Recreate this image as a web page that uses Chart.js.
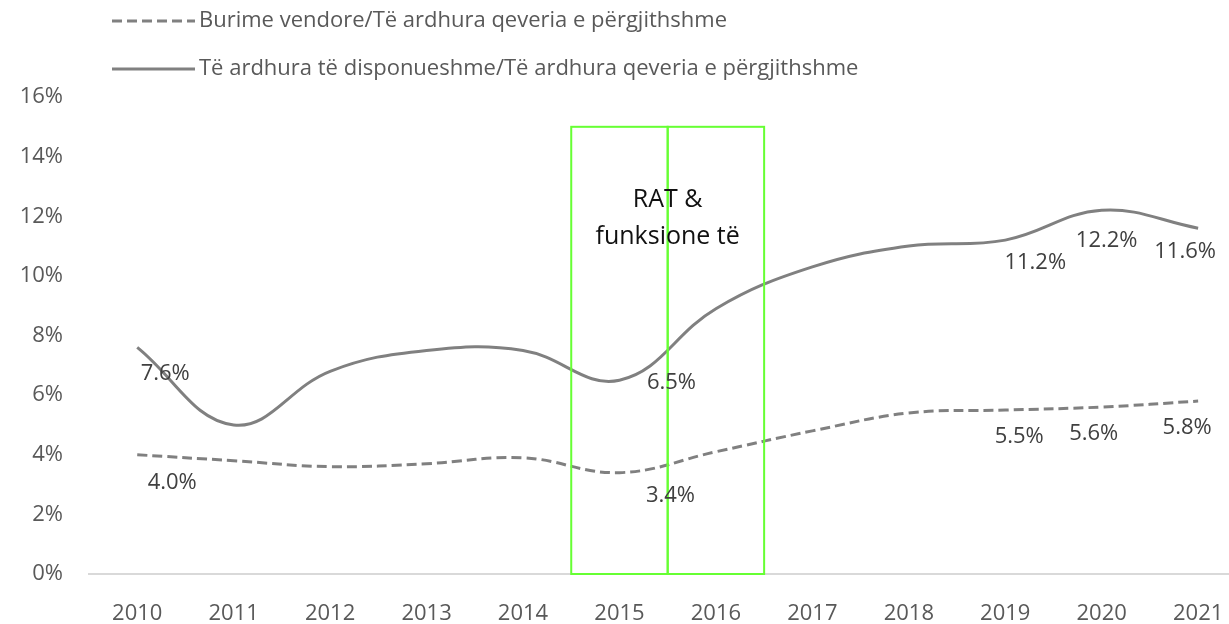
<!DOCTYPE html>
<html>
<head>
<meta charset="utf-8">
<script src="https://cdn.jsdelivr.net/npm/chart.js@4.4.1/dist/chart.umd.min.js"></script>
<style>
    body { margin: 0; background: #fff; }
    #wrap { width: 1229px; height: 624px; position: relative; }
</style>
</head>
<body>
<div id="wrap"><canvas id="lineChart"></canvas></div>
<script>
var years = [2010, 2011, 2012, 2013, 2014, 2015, 2016, 2017, 2018, 2019, 2020, 2021];
var burimeVendore = [4.0, 3.8, 3.6, 3.7, 3.9, 3.4, 4.1, 4.8, 5.4, 5.5, 5.6, 5.8];
var teArdhuraDisp = [7.6, 5.0, 6.8, 7.5, 7.5, 6.5, 8.9, 10.3, 11.0, 11.2, 12.2, 11.6];
var yTicks = [0, 2, 4, 6, 8, 10, 12, 14, 16];
var seriesNames = [
    'Burime vendore/Të ardhura qeveria e përgjithshme',
    'Të ardhura të disponueshme/Të ardhura qeveria e përgjithshme'
];
var labelledYears = [2010, 2015, 2019, 2020, 2021];
var boxYears = [2015, 2016];
var boxTop = 15;
var boxText = ['RAT &', 'funksione të'];

// where each value label sits relative to its point (px)
var labelShift = [
    { 2010: [35, 28], 2015: [51, 23], 2019: [14, 27], 2020: [-8, 27], 2021: [-11, 27] },
    { 2010: [28, 26], 2015: [52, 3], 2019: [30, 23], 2020: [5, 30], 2021: [-13, 24] }
];

function toPoints(arr) {
    return years.map(function(y, i) { return { x: y, y: arr[i] }; });
}

var legendPlugin = {
    id: 'topLegend',
    afterDraw: function(chart) {
        var ctx = chart.ctx;
        ctx.save();
        ctx.font = '22px "Open Sans"';
        ctx.fillStyle = '#595959';
        ctx.textBaseline = 'middle';
        chart.data.datasets.forEach(function(ds, i) {
            var y = 21 + i * 48;
            ctx.beginPath();
            ctx.strokeStyle = ds.borderColor;
            ctx.lineWidth = 3;
            ctx.setLineDash(ds.borderDash || []);
            ctx.moveTo(112, y);
            ctx.lineTo(195, y);
            ctx.stroke();
            ctx.setLineDash([]);
            ctx.fillText(ds.label, 199, y);
        });
        ctx.restore();
    }
};

var boxPlugin = {
    id: 'boxes',
    afterDatasetsDraw: function(chart) {
        var ctx = chart.ctx, xs = chart.scales.x, ys = chart.scales.y;
        ctx.save();
        ctx.strokeStyle = '#66ff33';
        ctx.lineWidth = 2;
        boxYears.forEach(function(yr) {
            var l = xs.getPixelForValue(yr - 0.5), r = xs.getPixelForValue(yr + 0.5);
            var t = ys.getPixelForValue(boxTop), b = ys.getPixelForValue(0);
            ctx.strokeRect(l, t, r - l, b - t);
        });
        var cx = xs.getPixelForValue((boxYears[0] + boxYears[1]) / 2);
        ctx.fillStyle = '#111';
        ctx.font = '25px "Open Sans"';
        ctx.textAlign = 'center';
        ctx.textBaseline = 'middle';
        boxText.forEach(function(t, i) {
            ctx.fillText(t, cx, ys.getPixelForValue(12.55) + i * 37);
        });
        ctx.restore();
    }
};

var valueLabelPlugin = {
    id: 'valueLabels',
    afterDatasetsDraw: function(chart) {
        var ctx = chart.ctx;
        ctx.save();
        ctx.font = '22px "Open Sans"';
        ctx.fillStyle = '#404040';
        ctx.textAlign = 'center';
        ctx.textBaseline = 'middle';
        chart.data.datasets.forEach(function(ds, d) {
            var meta = chart.getDatasetMeta(d);
            meta.data.forEach(function(pt, i) {
                var yr = years[i];
                if (labelledYears.indexOf(yr) < 0) return;
                var s = labelShift[d][yr];
                ctx.fillText(ds.data[i].y.toFixed(1) + '%', pt.x + s[0], pt.y + s[1]);
            });
        });
        ctx.restore();
    }
};

window.onload = function() {
    var ctx = document.getElementById('lineChart').getContext('2d');
    var lineChart = new Chart(ctx, {
        type: 'line',
        data: {
            datasets: [{
                label: seriesNames[0],
                data: toPoints(burimeVendore),
                borderColor: '#808080',
                borderWidth: 3,
                borderDash: [10, 5],
                pointRadius: 0,
                tension: 0.4,
                fill: false
            }, {
                label: seriesNames[1],
                data: toPoints(teArdhuraDisp),
                borderColor: '#808080',
                borderWidth: 3,
                pointRadius: 0,
                tension: 0.4,
                fill: false
            }]
        },
        options: {
            responsive: true,
            maintainAspectRatio: false,
            animation: false,
            layout: { padding: { top: 97, right: 0, left: 0, bottom: 0 } },
            plugins: {
                legend: { display: false },
                tooltip: { enabled: false }
            },
            scales: {
                x: {
                    type: 'linear',
                    min: 2009.5,
                    max: 2021.32,
                    afterBuildTicks: function(s) {
                        s.ticks = years.map(function(v) { return { value: v }; });
                    },
                    afterFit: function(s) {
                        s.height = 50;
                        s.paddingLeft = 0;
                        s.paddingRight = 0;
                    },
                    grid: { display: false, drawTicks: false },
                    border: { display: true, color: '#d9d9d9', width: 2 },
                    ticks: {
                        padding: 27,
                        color: '#595959',
                        font: { family: 'Open Sans', size: 22 },
                        callback: function(v) { return String(v); }
                    }
                },
                y: {
                    min: 0,
                    max: 16,
                    afterBuildTicks: function(s) {
                        s.ticks = yTicks.map(function(v) { return { value: v }; });
                    },
                    afterFit: function(s) { s.width = 89; },
                    grid: { display: false, drawTicks: false },
                    border: { display: false },
                    ticks: {
                        padding: 26,
                        color: '#595959',
                        font: { family: 'Open Sans', size: 22 },
                        callback: function(v) { return v + '%'; }
                    }
                }
            }
        },
        plugins: [legendPlugin, boxPlugin, valueLabelPlugin]
    });
};
</script>
</body>
</html>
